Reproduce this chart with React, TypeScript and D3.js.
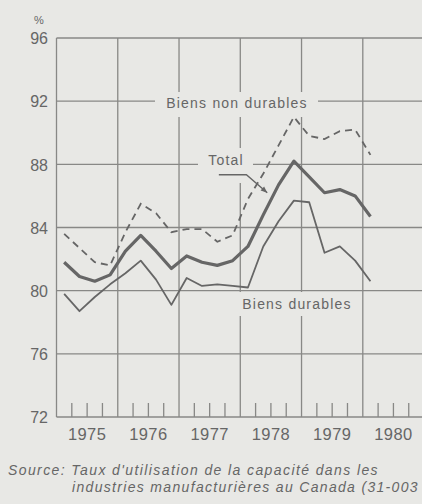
import React from "react";
import * as d3 from "d3";

// quarterly values, 1975 Q1 .. 1980 Q1
const startYear = 1975;
const total = [
  81.8, 80.9, 80.6, 81.0,
  82.5, 83.5, 82.5, 81.4,
  82.2, 81.8, 81.6, 81.9,
  82.8, 84.8, 86.7, 88.2,
  87.2, 86.2, 86.4, 86.0,
  84.7,
];
const durables = [
  79.8, 78.7, 79.6, 80.4,
  81.1, 81.9, 80.7, 79.1,
  80.8, 80.3, 80.4, 80.3,
  80.2, 82.8, 84.4, 85.7,
  85.6, 82.4, 82.8, 81.9,
  80.6,
];
const nonDurables = [
  83.6, 82.7, 81.8, 81.6,
  83.7, 85.5, 84.9, 83.7,
  83.9, 83.9, 83.1, 83.5,
  85.8, 87.4, 89.2, 91.0,
  89.8, 89.6, 90.1, 90.2,
  88.6,
];
const years = [1975, 1976, 1977, 1978, 1979, 1980];
const yTicks = [72, 76, 80, 84, 88, 92, 96];

const W = 422;
const H = 504;
const bg = "#e8e8e5";
const ink = "#666666";
const grid = "#888886";
const font = "'Liberation Sans', Arial, sans-serif";

const x = d3.scaleLinear().domain([1975, 1981]).range([56.5, 56.5 + 6 * 61.26]);
const y = d3.scaleLinear().domain([72, 96]).range([417, 38]);

const toPoints = (vals: number[]) =>
  vals.map((v, i) => [startYear + (i + 0.5) / 4, v] as [number, number]);

const line = d3
  .line<[number, number]>()
  .x((d) => x(d[0]))
  .y((d) => y(d[1]))
  .curve(d3.curveLinear);

const App: React.FC = () => {
  const minor: number[] = [];
  years.forEach((yr) => [0.25, 0.5, 0.75].forEach((q) => minor.push(yr + q)));

  // leader for "Total"
  const lx0 = x(1977.65);
  const ly0 = y(87.4) + 1;
  const lx1 = x(1978.1);
  const lx2 = x(1978.44);
  const ly2 = y(86.2);
  const ang = Math.atan2(ly2 - ly0, lx2 - lx1);
  const ah = 7;
  const arrow = [
    [lx2, ly2],
    [lx2 - ah * Math.cos(ang - 0.4), ly2 - ah * Math.sin(ang - 0.4)],
    [lx2 - ah * Math.cos(ang + 0.4), ly2 - ah * Math.sin(ang + 0.4)],
  ];

  return (
    <svg
      width={W}
      height={H}
      style={{ position: "absolute", left: 0, top: 0, background: bg }}
    >
      <rect x={0} y={0} width={W} height={H} fill={bg} />

      {/* grid */}
      {yTicks.map((t) => (
        <line key={"h" + t} x1={x(1975)} x2={W} y1={y(t)} y2={y(t)} stroke={grid} strokeWidth={1.3} />
      ))}
      {years.map((yr) => (
        <line key={"v" + yr} x1={x(yr)} x2={x(yr)} y1={y(96)} y2={y(72)} stroke={grid} strokeWidth={1.3} />
      ))}
      {minor.map((m) => (
        <line key={"m" + m} x1={x(m)} x2={x(m)} y1={y(72)} y2={y(72) - 14} stroke={grid} strokeWidth={1.3} />
      ))}

      {/* label backgrounds break the grid */}
      <rect x={155} y={92} width={163} height={25} fill={bg} />
      <rect x={198} y={148} width={55} height={35} fill={bg} />
      <rect x={237} y={292} width={121} height={24} fill={bg} />

      {/* series */}
      <path d={line(toPoints(nonDurables)) || ""} fill="none" stroke={ink} strokeWidth={1.8} strokeDasharray="7,5" />
      <path d={line(toPoints(durables)) || ""} fill="none" stroke={ink} strokeWidth={1.8} strokeLinejoin="round" />
      <path d={line(toPoints(total)) || ""} fill="none" stroke={ink} strokeWidth={3.2} strokeLinejoin="round" />

      {/* leader */}
      <polyline
        points={`${lx0},${ly0} ${lx1},${ly0} ${lx2},${ly2}`}
        fill="none"
        stroke={ink}
        strokeWidth={1.4}
      />
      <polygon points={arrow.map((p) => p.join(",")).join(" ")} fill={ink} />

      {/* annotations */}
      <g fontFamily={font} fill={ink} fontSize={14} letterSpacing={1.2}>
        <text x={237} y={104} textAnchor="middle" dominantBaseline="middle">Biens non durables</text>
        <text x={226} y={161} textAnchor="middle" dominantBaseline="middle">Total</text>
        <text x={297} y={305} textAnchor="middle" dominantBaseline="middle">Biens durables</text>
      </g>

      {/* y axis labels */}
      <g fontFamily={font} fill={ink} fontSize={16}>
        {yTicks.map((t) => (
          <text key={"yt" + t} x={48} y={y(t) + 2} textAnchor="end" dominantBaseline="middle">{t}</text>
        ))}
        <text x={39} y={21} fontSize={11} textAnchor="middle" dominantBaseline="middle">%</text>
      </g>

      {/* x axis labels */}
      <g fontFamily={font} fill={ink} fontSize={16.5} letterSpacing={0.4}>
        {years.map((yr) => (
          <text key={"xt" + yr} x={x(yr + 0.5)} y={436} textAnchor="middle" dominantBaseline="middle">{yr}</text>
        ))}
      </g>

      {/* source */}
      <g fontFamily={font} fill={ink} fontSize={14} fontStyle="italic" letterSpacing={1.4}>
        <text x={8} y={475}>Source: Taux d'utilisation de la capacité dans les</text>
        <text x={72} y={492} textLength={347} lengthAdjust="spacing">industries manufacturières au Canada (31-003</text>
      </g>
    </svg>
  );
};

export default App;
